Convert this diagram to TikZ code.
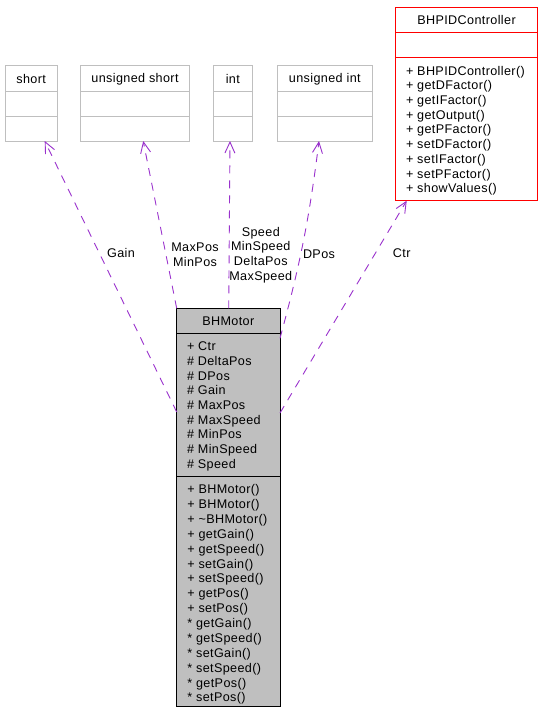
\documentclass[tikz,border=0pt]{standalone}
\usepackage{fontspec}
\setmainfont{Liberation Sans}[LetterSpace=3]
\usetikzlibrary{arrows.meta}
\definecolor{depcol}{RGB}{154,50,205}
\definecolor{graybd}{RGB}{191,191,191}
\definecolor{motorfill}{RGB}{191,191,191}
\begin{document}
\begin{tikzpicture}[x=1pt,y=-1pt,
  every node/.style={inner sep=0pt,outer sep=0pt},
  txt/.style={font=\fontsize{12.6}{14.7}\selectfont},
  typebox/.style={draw=graybd,line width=1pt,anchor=north west},
  pidbox/.style={draw=red,line width=1pt,anchor=north west},
  motorbox/.style={draw=black,fill=motorfill,line width=1pt,anchor=north west},
  seppid/.style={draw=red,line width=1pt},
  septype/.style={draw=graybd,line width=1pt},
  sepmotor/.style={draw=black,line width=1pt},
  dep/.style={draw=depcol,line width=0.9pt,dash pattern=on 8pt off 7pt,
    -{Straight Barb[length=11pt,width=10pt,line width=0.9pt]}},
  deplabel/.style={txt,align=center,text=black}
]
\useasboundingbox (0,0) rectangle (541,712);
\fill[white] (0,0) rectangle (541,712);

% top type boxes
\node[typebox,minimum width=52.3pt,minimum height=76pt] (short) at (5,65) {};
\node[typebox,minimum width=108.6pt,minimum height=76pt] (ushort) at (80.7,65) {};
\node[typebox,minimum width=39pt,minimum height=76pt] (int) at (213.3,65) {};
\node[typebox,minimum width=95pt,minimum height=76pt] (uint) at (277.3,65) {};
\foreach \b in {short,ushort,int,uint}{
  \draw[septype] ([yshift=-26.7pt]\b.north west) -- ([yshift=-26.7pt]\b.north east);
  \draw[septype] ([yshift=-51.7pt]\b.north west) -- ([yshift=-51.7pt]\b.north east);
}
\node[txt] (shortT) at (31.2,78.8) {short};
\node[txt] (ushortT) at (135,78.8) {unsigned short};
\node[txt] (intT) at (232.8,78.8) {int};
\node[txt] (uintT) at (324.8,78.8) {unsigned int};

% BHPIDController
\node[pidbox,minimum width=141.6pt,minimum height=193.4pt] (pid) at (395.7,7.3) {};
\draw[seppid] ([yshift=-25pt]pid.north west) -- ([yshift=-25pt]pid.north east);
\draw[seppid] ([yshift=-50pt]pid.north west) -- ([yshift=-50pt]pid.north east);
\node[txt] (pidT) at (466.5,20.3) {BHPIDController};
\node[txt,align=left,anchor=west] (pidM) at (406,130.7) {+ BHPIDController()\\+ getDFactor()\\+ getIFactor()\\+ getOutput()\\+ getPFactor()\\+ setDFactor()\\+ setIFactor()\\+ setPFactor()\\+ showValues()};

% BHMotor
\node[motorbox,minimum width=103.3pt,minimum height=398.4pt] (motor) at (176.7,308.3) {};
\draw[sepmotor] ([yshift=-25pt]motor.north west) -- ([yshift=-25pt]motor.north east);
\draw[sepmotor] ([yshift=-168.4pt]motor.north west) -- ([yshift=-168.4pt]motor.north east);
\node[txt] (motorT) at (228.3,321.3) {BHMotor};
\node[txt,align=left,anchor=west] (motorA) at (187,406.5) {+ Ctr\\\# DeltaPos\\\# DPos\\\# Gain\\\# MaxPos\\\# MaxSpeed\\\# MinPos\\\# MinSpeed\\\# Speed};
\node[txt,align=left,anchor=west,font=\fontsize{12.6}{14.88}\selectfont] (motorM) at (187.3,594.5) {+ BHMotor()\\+ BHMotor()\\+ \textasciitilde BHMotor()\\+ getGain()\\+ getSpeed()\\+ setGain()\\+ setSpeed()\\+ getPos()\\+ setPos()\\* getGain()\\* getSpeed()\\* setGain()\\* setSpeed()\\* getPos()\\* setPos()};

% dependencies
\draw[dep] ([yshift=-103.7pt]motor.north west) -- ([xshift=39.7pt]short.south west);
\draw[dep] (motor.north west) -- ([xshift=62.5pt]ushort.south west);
\draw[dep] ([xshift=52pt]motor.north west) -- ([xshift=16.7pt]int.south west);
\draw[dep] ([yshift=-30pt]motor.north east) to[bend right=4] ([xshift=41.7pt]uint.south west);
\draw[dep] ([yshift=-104.7pt]motor.north east) -- ([xshift=11pt]pid.south west);

% labels
\node[deplabel] (lGain) at (121,253) {Gain};
\node[deplabel] (lMax) at (195,254.8) {MaxPos\\MinPos};
\node[deplabel] (lSpeed) at (260.8,254.8) {Speed\\MinSpeed\\DeltaPos\\MaxSpeed};
\node[deplabel] (lDPos) at (319,254) {DPos};
\node[deplabel] (lCtr) at (401.7,253.3) {Ctr};
\end{tikzpicture}
\end{document}
